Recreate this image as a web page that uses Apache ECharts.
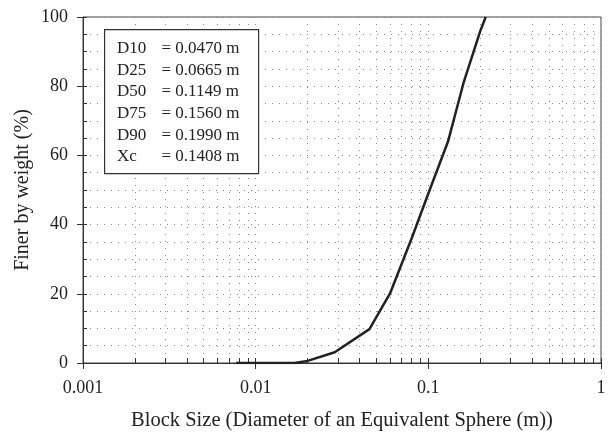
<!DOCTYPE html>
<html>
<head>
<meta charset="utf-8">
<script src="https://cdn.jsdelivr.net/npm/echarts@6/dist/echarts.min.js"></script>
<style>html,body{margin:0;padding:0;background:#fff}#c{width:609px;height:432px}</style>
</head>
<body>
<div id="c"></div>
<script>
// Data
var blockSize = [0.0077, 0.0168, 0.020, 0.0287, 0.0456, 0.060, 0.080, 0.100, 0.130, 0.160, 0.200, 0.215];
var finer     = [0,      0,      0.6,   3.1,    9.8,    20.1,   36,     49,     64,     81,     96,     100];
var legendLabels = ['D10', 'D25', 'D50', 'D75', 'D90', 'Xc'];
var legendValues = ['= 0.0470 m', '= 0.0665 m', '= 0.1149 m', '= 0.1560 m', '= 0.1990 m', '= 0.1408 m'];
var xName = 'Block Size (Diameter of an Equivalent Sphere (m))';
var yName = 'Finer by weight (%)';

var FONT = '"Liberation Serif", "DejaVu Serif", serif';
var chart = echarts.init(document.getElementById('c'), null, {renderer: 'canvas'});

var pts = blockSize.map(function (x, i) { return [x, finer[i]]; });

var graphics = [{
  type: 'rect', left: 104, top: 29,
  shape: {width: 154, height: 144},
  style: {fill: '#fff', stroke: '#333', lineWidth: 1.2}, z: 100
}];
legendLabels.forEach(function (l, i) {
  graphics.push({type: 'text', left: 117, top: 40 + i * 21.7, z: 101,
    style: {text: l, font: '17px ' + FONT, fill: '#222'}});
  graphics.push({type: 'text', left: 161.5, top: 40 + i * 21.7, z: 101,
    style: {text: legendValues[i], font: '17px ' + FONT, fill: '#222'}});
});

var dotted = {type: [1, 6], color: '#888'};

chart.setOption({
  animation: false,
  grid: {left: 83, right: 8, top: 17, bottom: 69, show: true, borderColor: '#444', borderWidth: 1,
         containLabel: false, outerBoundsMode: 'none'},
  xAxis: [{
    type: 'log', logBase: 10, min: 0.001, max: 1, position: 'bottom',
    name: xName, nameLocation: 'middle', nameGap: 47, nameMoveOverlap: false,
    nameTextStyle: {fontFamily: FONT, fontSize: 20.5, color: '#222'},
    axisLine: {lineStyle: {color: '#333', width: 1}},
    axisTick: {show: true, inside: true, length: 5, lineStyle: {color: '#333'}},
    minorTick: {show: true, splitNumber: 9, length: 5, lineStyle: {color: '#333'}},
    axisLabel: {fontFamily: FONT, fontSize: 18, color: '#222', margin: 16},
    splitLine: {show: true, lineStyle: dotted},
    minorSplitLine: {show: true, lineStyle: dotted}
  }, {
    type: 'log', logBase: 10, min: 0.001, max: 1, position: 'bottom',
    axisLine: {show: false},
    axisTick: {show: true, inside: false, length: 6, lineStyle: {color: '#333'}},
    axisLabel: {show: false}, splitLine: {show: false}
  }],
  yAxis: [{
    type: 'value', min: 0, max: 100, interval: 20, position: 'left',
    name: yName, nameLocation: 'middle', nameGap: 50, nameMoveOverlap: false,
    nameTextStyle: {fontFamily: FONT, fontSize: 20, color: '#222'},
    axisLine: {show: true, lineStyle: {color: '#333', width: 1}},
    axisTick: {show: true, inside: true, length: 4, lineStyle: {color: '#333'}},
    minorTick: {show: true, splitNumber: 4, length: 4, lineStyle: {color: '#333'}},
    axisLabel: {fontFamily: FONT, fontSize: 18, color: '#222', margin: 15},
    splitLine: {show: true, lineStyle: dotted},
    minorSplitLine: {show: true, lineStyle: dotted}
  }, {
    type: 'value', min: 0, max: 100, interval: 20, position: 'left',
    axisLine: {show: false},
    axisTick: {show: true, inside: false, length: 6, lineStyle: {color: '#333'}},
    axisLabel: {show: false}, splitLine: {show: false}
  }],
  series: [{
    type: 'line', data: pts, showSymbol: false, symbol: 'none',
    xAxisIndex: 0, yAxisIndex: 0,
    lineStyle: {color: '#222', width: 2.5}, z: 5
  }],
  graphic: graphics
});
</script>
</body>
</html>
